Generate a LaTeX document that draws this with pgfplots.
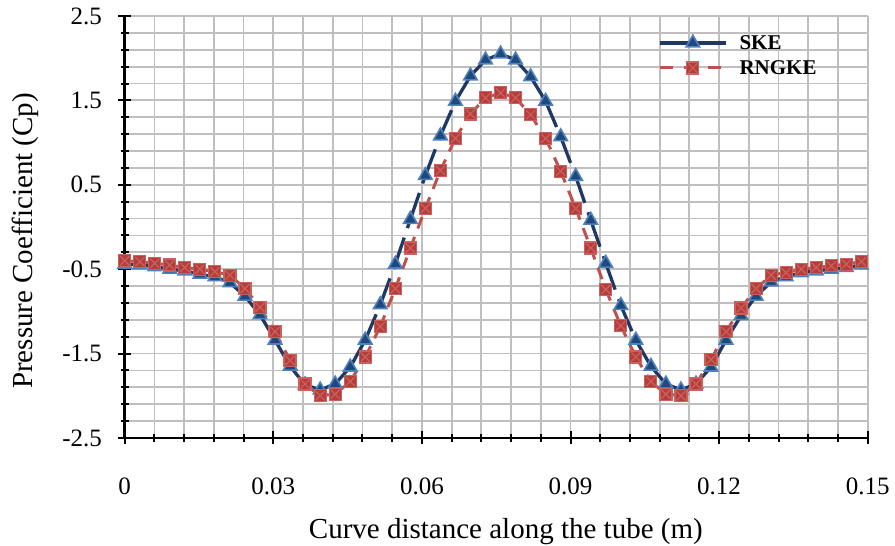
\documentclass[border=0pt]{standalone}
\usepackage{fontspec}
\setmainfont{Liberation Serif}
\usepackage{pgfplots}
\pgfplotsset{compat=1.18}
\usepackage{pgfplotstable}

\definecolor{skeline}{RGB}{31,56,100}
\definecolor{skefill}{RGB}{31,73,125}
\definecolor{skedraw}{RGB}{79,129,189}
\definecolor{rngline}{RGB}{192,80,77}
\definecolor{rngfill}{RGB}{180,62,59}
\definecolor{rngdraw}{RGB}{204,96,93}
\definecolor{gridc}{RGB}{191,191,191}

\pgfdeclareplotmark{sqx}{%
  \pgfpathrectangle{\pgfpoint{-\pgfplotmarksize}{-\pgfplotmarksize}}{\pgfpoint{2\pgfplotmarksize}{2\pgfplotmarksize}}%
  \pgfusepathqfillstroke
  \pgfpathmoveto{\pgfpoint{-0.75\pgfplotmarksize}{-0.75\pgfplotmarksize}}%
  \pgfpathlineto{\pgfpoint{0.75\pgfplotmarksize}{0.75\pgfplotmarksize}}%
  \pgfpathmoveto{\pgfpoint{-0.75\pgfplotmarksize}{0.75\pgfplotmarksize}}%
  \pgfpathlineto{\pgfpoint{0.75\pgfplotmarksize}{-0.75\pgfplotmarksize}}%
  \pgfusepathqstroke
}

\pgfplotsset{
  skeleg/.style={legend image code/.code={\draw[skeline, line width=3.3pt] (0pt,0pt)--(66pt,0pt);
    \draw[##1] plot coordinates {(33pt,0pt)};}},
  rngleg/.style={legend image code/.code={\draw[rngline, line width=3pt, dash pattern=on 13pt off 11pt] (0pt,0pt)--(66pt,0pt);
    \draw[##1] plot coordinates {(33pt,0pt)};}},
}

\pgfplotstableread{
x       ske    rng
0       -0.44  -0.40
0.00304 -0.45  -0.41
0.00607 -0.47  -0.43
0.00911 -0.50  -0.45
0.01214 -0.52  -0.48
0.01518 -0.56  -0.50
0.01821 -0.59  -0.53
0.02125 -0.66  -0.57
0.02428 -0.82  -0.73
0.02732 -1.04  -0.95
0.03035 -1.34  -1.24
0.03339 -1.65  -1.58
0.03642 -1.87  -1.86
0.03946 -1.93  -2.00
0.04249 -1.86  -1.98
0.04553 -1.66  -1.83
0.04856 -1.34  -1.54
0.05160 -0.92  -1.18
0.05463 -0.44  -0.73
0.05767  0.09  -0.25
0.06070  0.61   0.22
0.06374  1.08   0.67
0.06677  1.49   1.05
0.06981  1.79   1.34
0.07284  1.98   1.53
0.07588  2.05   1.59
0.07891  1.98   1.53
0.08195  1.78   1.33
0.08498  1.49   1.05
0.08802  1.07   0.66
0.09105  0.60   0.22
0.09409  0.08  -0.25
0.09712 -0.43  -0.74
0.10016 -0.93  -1.17
0.10319 -1.34  -1.54
0.10623 -1.65  -1.83
0.10926 -1.86  -1.98
0.11230 -1.93  -2.00
0.11533 -1.86  -1.86
0.11837 -1.66  -1.57
0.12140 -1.34  -1.24
0.12444 -1.05  -0.96
0.12747 -0.82  -0.73
0.13051 -0.65  -0.57
0.13354 -0.59  -0.54
0.13658 -0.54  -0.50
0.13961 -0.52  -0.48
0.14265 -0.50  -0.46
0.14568 -0.48  -0.44
0.14872 -0.45  -0.41
}\datatab

\begin{document}
\begin{tikzpicture}
\begin{axis}[
  at={(0pt,0pt)}, anchor=south west,
  scale only axis, width=743pt, height=422pt,
  xmin=0, xmax=0.15, ymin=-2.5, ymax=2.5,
  clip=false,
  xtick={0,0.03,0.06,0.09,0.12,0.15},
  xticklabels={0,0.03,0.06,0.09,0.12,0.15},
  ytick={-2.5,-1.5,-0.5,0.5,1.5,2.5},
  yticklabels={-2.5,-1.5,-0.5,0.5,1.5,2.5},
  minor x tick num=4, minor y tick num=4,
  grid=both,
  major grid style={gridc, line width=1.8pt},
  minor grid style={gridc, line width=1.8pt},
  axis x line*=bottom, axis y line*=left,
  axis line style={black, line width=2.8pt, -},
  tick style={black, line width=2pt},
  tick align=center, major tick length=13pt, minor tick length=8pt,
  xticklabel style={font=\fontsize{25}{25}\selectfont, inner sep=0pt, anchor=north, yshift=-33pt},
  yticklabel style={font=\fontsize{25}{25}\selectfont, inner sep=0pt, anchor=east, xshift=-16pt},
  xlabel={Curve distance along the tube (m)},
  xlabel style={font=\fontsize{29}{29}\selectfont, at={(axis description cs:0.513,-0.237)}, anchor=base},
  ylabel={Pressure Coefficient (Cp)},
  ylabel style={font=\fontsize{29}{29}\selectfont, at={(axis description cs:-0.134,0.467)}, anchor=center},
  legend style={draw=none, fill=none, inner sep=0pt,
    at={(axis description cs:0.7178,0.955)}, anchor=north west,
    font=\fontsize{21}{21}\selectfont\bfseries,
    row sep=11pt, cells={anchor=west},
    nodes={inner sep=0pt, text height=14pt, text depth=0pt},
    /tikz/every odd column/.append style={column sep=12pt}},
]
\addplot[mesh, forget plot, colormap={skec}{color(0cm)=(skeline) color(1cm)=(skeline)},
  line width=3.3pt, dash pattern=on 28pt off 10pt] table[x=x,y=ske]{\datatab};
\addplot[only marks, mark=triangle*, mark size=7.8pt,
  mark options={fill=skefill, draw=skedraw, line width=1.6pt, solid},
  skeleg] table[x=x,y=ske]{\datatab};
\addlegendentry{SKE}
\addplot[mesh, forget plot, colormap={rngc}{color(0cm)=(rngline) color(1cm)=(rngline)},
  line width=3pt, dash pattern=on 12pt off 9pt] table[x=x,y=rng]{\datatab};
\addplot[only marks, mark=sqx, mark size=6pt,
  mark options={fill=rngfill, draw=rngdraw, line width=1.2pt, solid},
  rngleg] table[x=x,y=rng]{\datatab};
\addlegendentry{RNGKE}
\end{axis}
\pgfresetboundingbox
\path[use as bounding box] (-124.7pt,-108pt) rectangle (770.3pt,438pt);
\end{tikzpicture}
\end{document}
